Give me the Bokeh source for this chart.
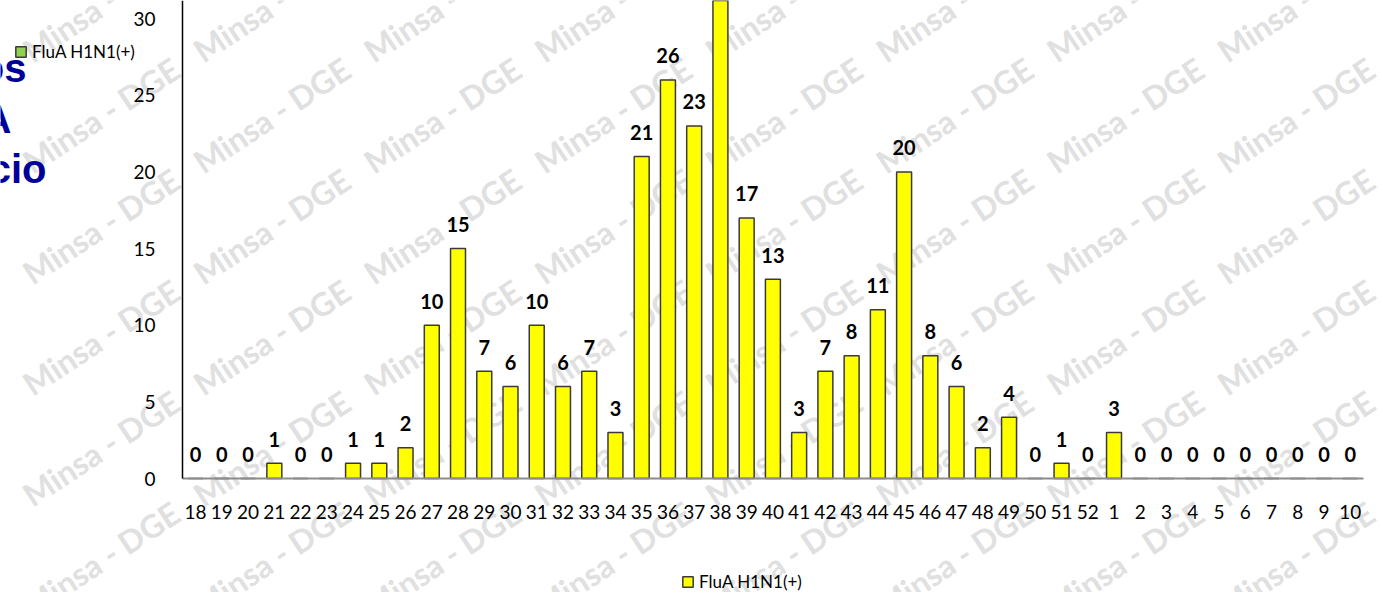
from bokeh.plotting import figure
from bokeh.models import (Range1d, FixedTicker, Label, Legend, LegendItem,
                          ColumnDataSource, LinearAxis)
from bokeh.embed import file_html
from bokeh.resources import INLINE
from bokeh.core.properties import value

# ---------------- data ----------------
weeks = ["18", "19", "20", "21", "22", "23", "24", "25", "26", "27", "28", "29",
         "30", "31", "32", "33", "34", "35", "36", "37", "38", "39", "40", "41",
         "42", "43", "44", "45", "46", "47", "48", "49", "50", "51", "52",
         "1", "2", "3", "4", "5", "6", "7", "8", "9", "10"]
cases = [0, 0, 0, 1, 0, 0, 1, 1, 2, 10, 15, 7,
         6, 10, 6, 7, 3, 21, 26, 23, 33, 17, 13, 3,
         7, 8, 11, 20, 8, 6, 2, 4, 0, 1, 0,
         3, 0, 0, 0, 0, 0, 0, 0, 0, 0]
y_ticks = [0, 5, 10, 15, 20, 25, 30]
series_name = "FluA H1N1(+)"
# second (hidden) series that only shows up in the upper-left legend
other_series_pos = [0]
other_series_cases = [0]
title_fragments = ["os", "A", "cio"]
watermark = "Minsa - DGE"

# ---------------- layout ----------------
W, H = 1381, 592
PX = 26.24      # pixels per week band
PY = 15.33      # pixels per case
X0 = 182        # pixel of the left edge of the first band
Y0 = 478        # pixel of zero cases
FONT = "Lato"

x_pos = list(range(len(weeks)))
x_start = -0.5 - X0 / PX
x_end = x_start + W / PX
y_start = -(H - Y0) / PY
y_end = Y0 / PY

p = figure(width=W, height=H, x_range=Range1d(x_start, x_end),
           y_range=Range1d(y_start, y_end), output_backend="svg",
           toolbar_location=None, x_axis_location=None, y_axis_location=None,
           min_border=0)
p.xgrid.visible = False
p.ygrid.visible = False
p.outline_line_color = None
p.background_fill_color = "white"
p.border_fill_color = "white"


def dx(px):
    return x_start + px / PX


def dy(py):
    return y_start + (H - py) / PY


# watermark tiles
for i in range(-1, 8):
    for j in range(0, 6):
        p.add_layout(Label(x=dx(196 + 170.7 * i), y=dy(53 + 111 * j), text=watermark,
                           angle=0.583, text_font=FONT, text_font_style="bold",
                           text_font_size="32px", text_color="#e0e0e0",
                           text_align="left", text_baseline="alphabetic",
                           level="underlay"))

# bars
src = ColumnDataSource(dict(x=x_pos, week=weeks, cases=cases,
                            label=[str(c) for c in cases]))
bars = p.vbar(x="x", top="cases", width=0.57, source=src, fill_color="#FFFF00",
              line_color="#3a3a3a", line_width=1.5)
labels_r = p.text(x="x", y="cases", text="label", source=src, text_align="center",
                  text_baseline="alphabetic", y_offset=-24, text_font=value(FONT),
                  text_font_style="bold", text_font_size="20px", text_color="black")

green = p.vbar(x=other_series_pos, top=other_series_cases, width=0.57,
               fill_color="#92D050", line_color="#3a3a3a", line_width=1.5,
               visible=False)

# axes
yaxis = LinearAxis(fixed_location=-0.5, bounds=(0, y_end),
                   ticker=FixedTicker(ticks=y_ticks))
yaxis.major_tick_line_color = None
yaxis.minor_tick_line_color = None
yaxis.axis_line_color = "black"
yaxis.axis_line_width = 1.5
yaxis.major_label_standoff = 21
yaxis.major_label_text_font = FONT
yaxis.major_label_text_font_size = "19px"
yaxis.major_label_text_color = "black"
p.add_layout(yaxis, "left")

xaxis = LinearAxis(fixed_location=0, bounds=(-0.5, len(weeks) - 0.5),
                   ticker=FixedTicker(ticks=x_pos),
                   major_label_overrides={i: w for i, w in zip(x_pos, weeks)})
xaxis.major_tick_line_color = None
xaxis.minor_tick_line_color = None
xaxis.axis_line_color = "#8c8c8c"
xaxis.axis_line_width = 2
xaxis.major_label_standoff = 20
xaxis.major_label_text_font = FONT
xaxis.major_label_text_font_size = "19px"
xaxis.major_label_text_color = "black"
p.add_layout(xaxis, "below")


# legends
def make_legend(renderer, loc):
    lg = Legend(items=[LegendItem(label=series_name, renderers=[renderer])],
                location=loc, orientation="horizontal", padding=0, margin=0,
                spacing=0, glyph_width=13, glyph_height=13, label_standoff=5,
                label_height=16, label_text_font=FONT, label_text_font_size="17px",
                label_text_color="black", border_line_alpha=0,
                background_fill_alpha=0, inactive_fill_alpha=0,
                click_policy="none")
    p.add_layout(lg, "center")


make_legend(bars, (681, 0))
make_legend(green, (14, 530))

# cut-off title on the left
for txt, px, py in zip(title_fragments, [26, 11, 46], [67, 118, 168]):
    p.add_layout(Label(x=dx(px), y=dy(py), text=txt, text_align="right",
                       text_baseline="alphabetic", text_font="Liberation Sans",
                       text_font_style="bold", text_font_size="40px",
                       text_color="#000099"))

open("out.html", "w").write(file_html(p, INLINE))
